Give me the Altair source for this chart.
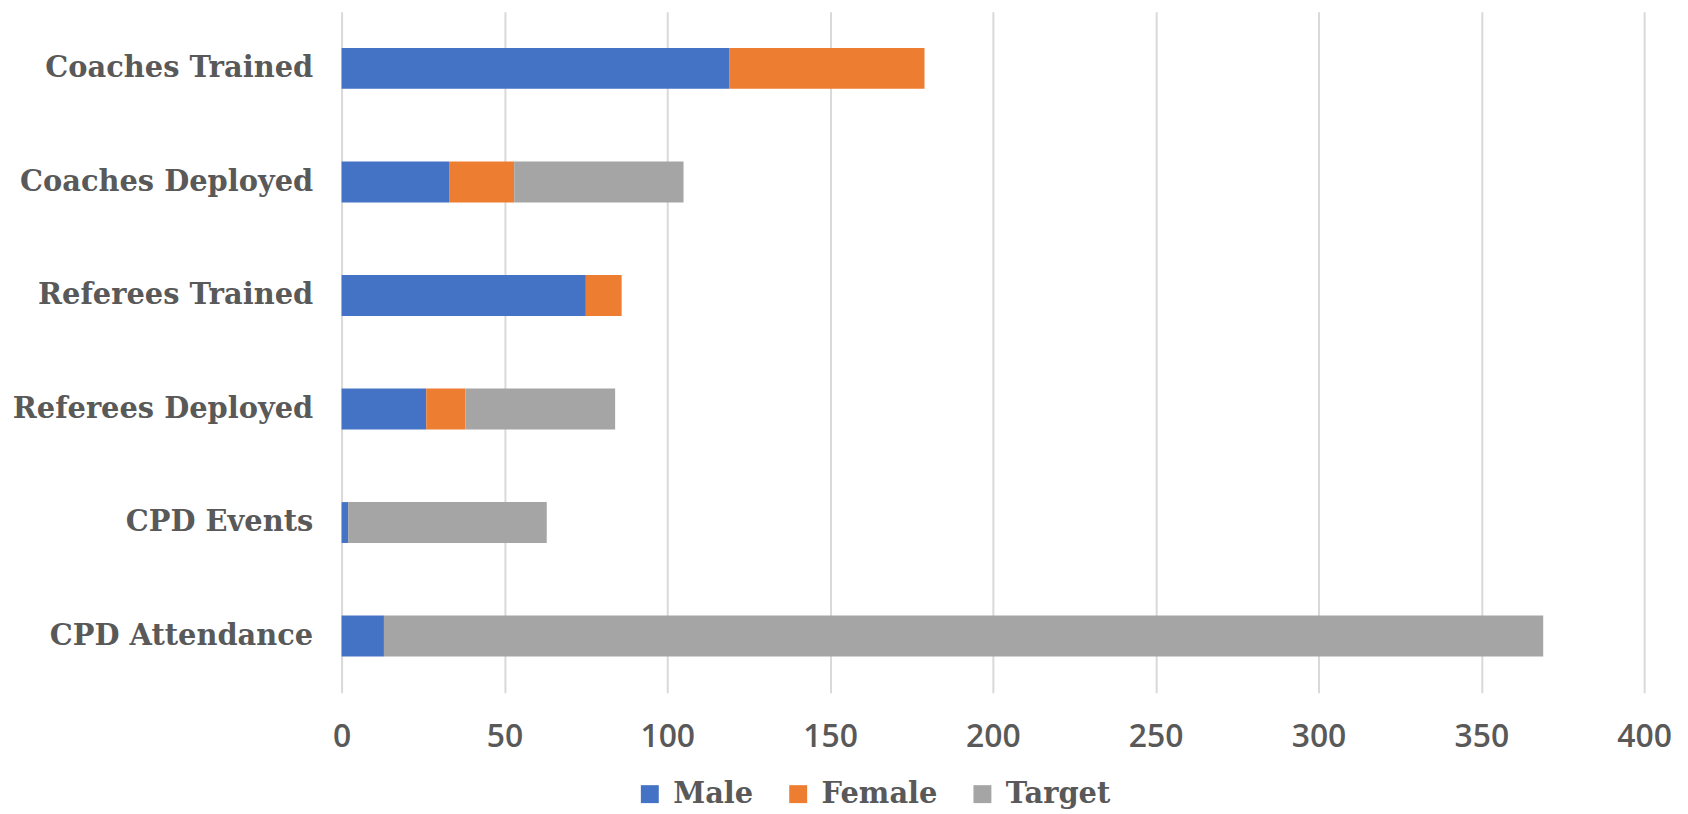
import altair as alt
import pandas as pd

categories = ["Coaches Trained", "Coaches Deployed", "Referees Trained",
              "Referees Deployed", "CPD Events", "CPD Attendance"]
male = [119, 33, 75, 26, 2, 13]
female = [60, 20, 11, 12, 0, 0]
target = [0, 52, 0, 46, 61, 356]
series = ["Male", "Female", "Target"]
colors = ["#4472C4", "#ED7D31", "#A5A5A5"]
ticks = [0, 50, 100, 150, 200, 250, 300, 350, 400]

rows = []
for i, c in enumerate(categories):
    for k, (s, vals) in enumerate(zip(series, [male, female, target])):
        rows.append({"Category": c, "Series": s, "Value": vals[i], "Order": k})
df = pd.DataFrame(rows)

FONT = "DejaVu Serif"
NUMFONT = "Open Sans"
GREY = "#595959"

chart = alt.Chart(df).mark_bar().encode(
    y=alt.Y("Category:N", sort=categories, title=None,
            scale=alt.Scale(paddingInner=0.64, paddingOuter=0.32),
            axis=alt.Axis(labelFont=FONT, labelFontSize=29, labelFontWeight="bold",
                          labelColor=GREY, ticks=False, domain=False, labelPadding=29,
                          labelLimit=0)),
    x=alt.X("Value:Q", stack="zero", title=None,
            scale=alt.Scale(domain=[0, 400], nice=False),
            axis=alt.Axis(values=ticks, labelFont=NUMFONT, labelFontSize=32,
                          labelFontWeight=600,
                          labelColor=GREY, ticks=False, domain=False,
                          gridColor="#D9D9D9", gridWidth=2, labelPadding=29,
                          labelFlush=False)),
    color=alt.Color("Series:N", sort=series,
                    scale=alt.Scale(domain=series, range=colors),
                    legend=alt.Legend(title=None, orient="none", legendX=295, legendY=771,
                                      direction="horizontal",
                                      symbolType="square", symbolSize=324, symbolStrokeWidth=0,
                                      labelFont=FONT, labelFontSize=29, labelFontWeight="bold",
                                      labelColor=GREY, columnPadding=30, labelOffset=9)),
    order=alt.Order("Order:Q"),
).properties(
    width=1308, height=684,
    autosize=alt.AutoSizeParams(type="none"),
    padding={"left": 335, "top": 2, "right": 36, "bottom": 118},
).configure_view(stroke=None)

chart.save("out.html", embed_options={"renderer": "svg", "actions": False})
